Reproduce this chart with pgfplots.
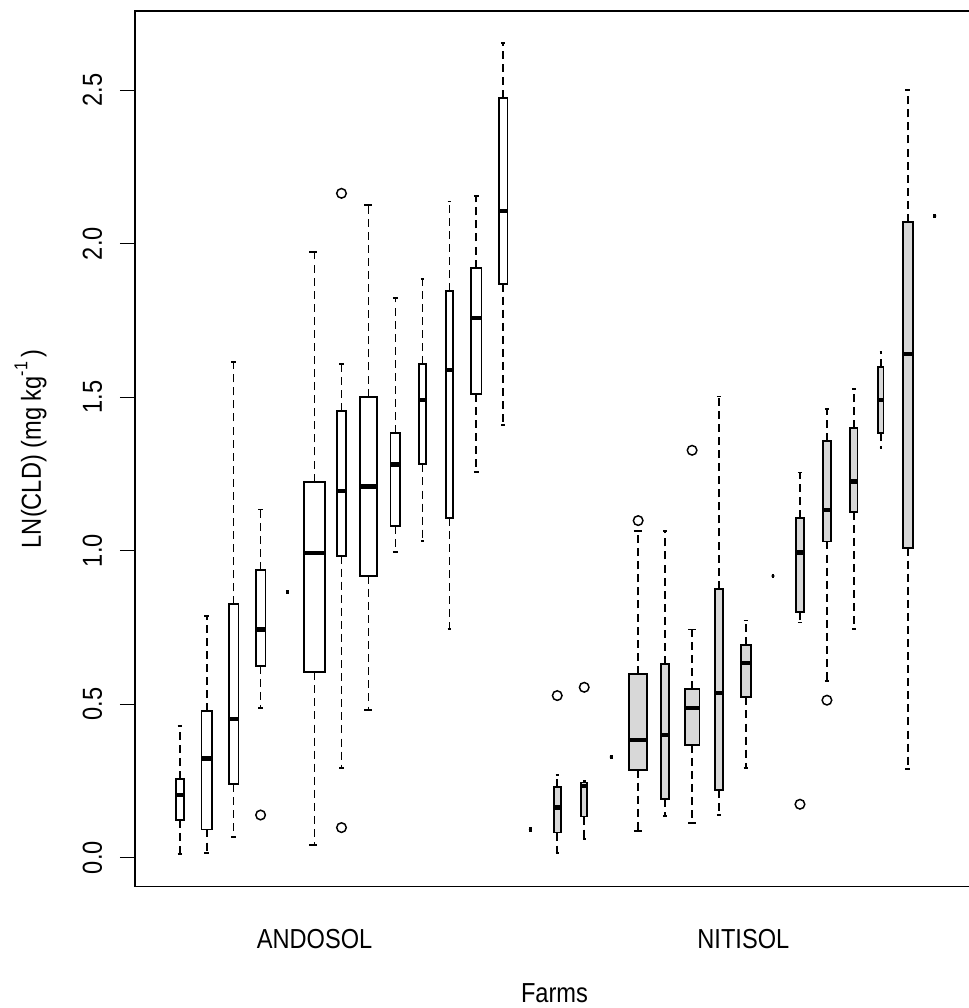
\documentclass[border=0pt]{standalone}
\usepackage{pgfplots}
\pgfplotsset{compat=1.18}
\usepgfplotslibrary{statistics}
\usepackage{fontspec}
\setmainfont{Liberation Sans}[FakeStretch=0.86]
\definecolor{nitgray}{RGB}{216,216,216}
\newcommand{\lab}{\fontsize{20.6pt}{24pt}\selectfont}
\pgfplotsset{
  bx/.style n args={3}{%
    boxplot/draw direction=y,
    boxplot/draw position=#3,
    boxplot/box extend=#2,
    boxplot/whisker extend=#2*0.5,
    draw=black, fill=#1, line width=1.4pt,
    mark=o, mark size=3.6pt, mark options={solid, line width=1.1pt, fill=none},
  },
  boxplot/every whisker/.style={fill=none, draw=black, dash pattern=on 6pt off 3.8pt, line width=1.3pt},
  boxplot/every median/.style={fill=none, line width=3.3pt},
}
\begin{document}
\begin{tikzpicture}
\path[use as bounding box, clip] (-101.25pt,-90.98pt) rectangle (625.5pt,665.03pt);
\begin{axis}[
  at={(0pt,0pt)}, anchor=south west,
  scale only axis, width=633.45pt, height=656.8pt,
  xmin=-0.657, xmax=30.66, ymin=-0.0945, ymax=2.758,
  axis line style={line width=1.2pt, black},
  tick align=outside, major tick length=11.25pt,
  ytick={0,0.5,1,1.5,2,2.5}, yticklabels={0.0,0.5,1.0,1.5,2.0,2.5},
  ytick pos=left,
  y tick style={line width=1pt, black},
  xtick={6,21.9}, xticklabels={ANDOSOL,NITISOL},
  xtick pos=bottom,
  x tick style={draw=none},
  yticklabel style={font=\lab, xshift=-13.5pt, rotate=90, anchor=base},
  xticklabel style={font=\lab, anchor=base, yshift=-35pt},
  xlabel={Farms},
  xlabel style={font=\lab, at={([xshift=-2.1pt]axis description cs:0.5,0)}, anchor=base, yshift=-86.5pt},
  ylabel={LN(CLD) (mg kg\raisebox{0.5em}{\fontsize{14pt}{14pt}\selectfont -1}\,)},
  ylabel style={font=\lab, at={([xshift=-70.5pt]axis description cs:0,0.5)}, anchor=base},
]
% ANDOSOL
\addplot[bx={white}{0.289}{1}, boxplot prepared={lower whisker=0.012, lower quartile=0.123, median=0.204, upper quartile=0.256, upper whisker=0.429}] coordinates {};
\addplot[bx={white}{0.378}{2}, boxplot prepared={lower whisker=0.016, lower quartile=0.092, median=0.323, upper quartile=0.477, upper whisker=0.788}] coordinates {};
\addplot[bx={white}{0.363}{3}, boxplot prepared={lower whisker=0.068, lower quartile=0.240, median=0.452, upper quartile=0.825, upper whisker=1.614}] coordinates {};
\addplot[bx={white}{0.363}{4}, boxplot prepared={lower whisker=0.488, lower quartile=0.625, median=0.743, upper quartile=0.937, upper whisker=1.134}] table[row sep=\\, y index=0] {y\\ 0.139\\};
\addplot[bx={white}{0.1}{5}, boxplot prepared={lower whisker=0.866, lower quartile=0.866, median=0.866, upper quartile=0.866, upper whisker=0.866}] coordinates {};
\addplot[bx={white}{0.786}{6}, boxplot prepared={lower whisker=0.041, lower quartile=0.604, median=0.993, upper quartile=1.225, upper whisker=1.972}] coordinates {};
\addplot[bx={white}{0.315}{7}, boxplot prepared={lower whisker=0.293, lower quartile=0.984, median=1.194, upper quartile=1.455, upper whisker=1.608}] table[row sep=\\, y index=0] {y\\ 2.164\\ 0.098\\};
\addplot[bx={white}{0.66}{8}, boxplot prepared={lower whisker=0.481, lower quartile=0.918, median=1.209, upper quartile=1.502, upper whisker=2.125}] coordinates {};
\addplot[bx={white}{0.363}{9}, boxplot prepared={lower whisker=0.995, lower quartile=1.080, median=1.281, upper quartile=1.383, upper whisker=1.824}] coordinates {};
\addplot[bx={white}{0.241}{10}, boxplot prepared={lower whisker=1.031, lower quartile=1.281, median=1.491, upper quartile=1.608, upper whisker=1.884}] coordinates {};
\addplot[bx={white}{0.252}{11}, boxplot prepared={lower whisker=0.744, lower quartile=1.107, median=1.589, upper quartile=1.846, upper whisker=2.137}] coordinates {};
\addplot[bx={white}{0.378}{12}, boxplot prepared={lower whisker=1.256, lower quartile=1.510, median=1.757, upper quartile=1.922, upper whisker=2.156}] coordinates {};
\addplot[bx={white}{0.315}{13}, boxplot prepared={lower whisker=1.409, lower quartile=1.870, median=2.106, upper quartile=2.475, upper whisker=2.653}] coordinates {};
% NITISOL
\addplot[bx={nitgray}{0.1}{14}, boxplot prepared={lower whisker=0.092, lower quartile=0.092, median=0.092, upper quartile=0.092, upper whisker=0.092}] coordinates {};
\addplot[bx={nitgray}{0.252}{15}, boxplot prepared={lower whisker=0.016, lower quartile=0.082, median=0.164, upper quartile=0.231, upper whisker=0.269}] table[row sep=\\, y index=0] {y\\ 0.528\\};
\addplot[bx={nitgray}{0.215}{16}, boxplot prepared={lower whisker=0.062, lower quartile=0.134, median=0.233, upper quartile=0.245, upper whisker=0.250}] table[row sep=\\, y index=0] {y\\ 0.555\\};
\addplot[bx={nitgray}{0.1}{17}, boxplot prepared={lower whisker=0.328, lower quartile=0.328, median=0.328, upper quartile=0.328, upper whisker=0.328}] coordinates {};
\addplot[bx={nitgray}{0.649}{18}, boxplot prepared={lower whisker=0.087, lower quartile=0.287, median=0.384, upper quartile=0.599, upper whisker=1.064}] table[row sep=\\, y index=0] {y\\ 1.098\\};
\addplot[bx={nitgray}{0.304}{19}, boxplot prepared={lower whisker=0.135, lower quartile=0.190, median=0.400, upper quartile=0.631, upper whisker=1.065}] coordinates {};
\addplot[bx={nitgray}{0.549}{20}, boxplot prepared={lower whisker=0.113, lower quartile=0.368, median=0.487, upper quartile=0.550, upper whisker=0.743}] table[row sep=\\, y index=0] {y\\ 1.327\\};
\addplot[bx={nitgray}{0.315}{21}, boxplot prepared={lower whisker=0.139, lower quartile=0.220, median=0.537, upper quartile=0.876, upper whisker=1.502}] coordinates {};
\addplot[bx={nitgray}{0.363}{22}, boxplot prepared={lower whisker=0.292, lower quartile=0.522, median=0.634, upper quartile=0.692, upper whisker=0.773}] coordinates {};
\addplot[bx={nitgray}{0.1}{23}, boxplot prepared={lower whisker=0.917, lower quartile=0.917, median=0.917, upper quartile=0.917, upper whisker=0.917}] coordinates {};
\addplot[bx={nitgray}{0.304}{24}, boxplot prepared={lower whisker=0.766, lower quartile=0.799, median=0.994, upper quartile=1.107, upper whisker=1.255}] table[row sep=\\, y index=0] {y\\ 0.174\\};
\addplot[bx={nitgray}{0.315}{25}, boxplot prepared={lower whisker=0.575, lower quartile=1.030, median=1.133, upper quartile=1.357, upper whisker=1.461}] table[row sep=\\, y index=0] {y\\ 0.513\\};
\addplot[bx={nitgray}{0.267}{26}, boxplot prepared={lower whisker=0.744, lower quartile=1.127, median=1.225, upper quartile=1.399, upper whisker=1.526}] coordinates {};
\addplot[bx={nitgray}{0.193}{27}, boxplot prepared={lower whisker=1.334, lower quartile=1.382, median=1.491, upper quartile=1.598, upper whisker=1.648}] coordinates {};
\addplot[bx={nitgray}{0.363}{28}, boxplot prepared={lower whisker=0.288, lower quartile=1.010, median=1.640, upper quartile=2.071, upper whisker=2.500}] coordinates {};
\addplot[bx={nitgray}{0.1}{29}, boxplot prepared={lower whisker=2.090, lower quartile=2.090, median=2.090, upper quartile=2.090, upper whisker=2.090}] coordinates {};
\end{axis}
\end{tikzpicture}
\end{document}
